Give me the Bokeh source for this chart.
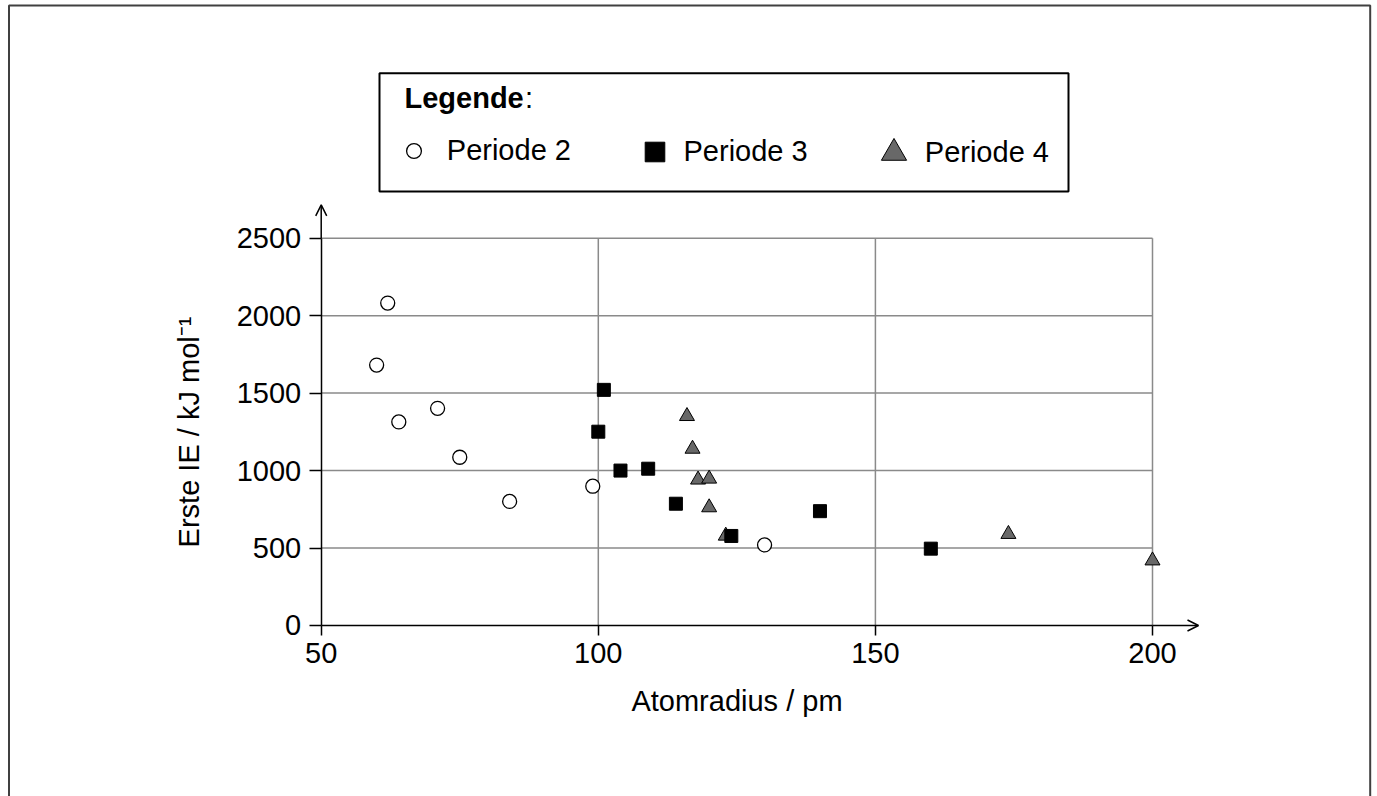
from bokeh.plotting import figure
from bokeh.models import (LinearAxis, FixedTicker, Range1d, Arrow, OpenHead, Legend,
                          LegendItem, Label, BoxAnnotation)
from bokeh.embed import file_html
from bokeh.resources import INLINE

# ---- data ----
p2_radius = [60, 62, 64, 71, 75, 84, 99, 130]
p2_ie = [1681, 2081, 1314, 1402, 1086, 801, 899, 520]
p3_radius = [100, 101, 104, 109, 114, 124, 140, 160]
p3_ie = [1251, 1521, 1000, 1012, 786, 578, 738, 496]
p4_radius = [116, 117, 118, 120, 120, 123, 174, 200]
p4_ie = [1351, 1140, 941, 947, 762, 579, 590, 419]
x_ticks = [50, 100, 150, 200]
y_ticks = [0, 500, 1000, 1500, 2000, 2500]
series_labels = ["Periode 2", "Periode 3", "Periode 4"]
x_title = "Atomradius / pm"
y_title = "Erste IE / kJ mol\u207b\u00b9"
legend_title = "Legende"

FONT = "Liberation Sans"
FS = "29px"
W, H = 1377, 796

p = figure(width=W, height=H, output_backend="svg", toolbar_location=None,
           x_range=Range1d(-7.87, 240.6), y_range=Range1d(-1103.8, 4034.3),
           x_axis_type=None, y_axis_type=None, min_border=0, title=None)
p.outline_line_color = None
p.background_fill_color = "white"
p.border_fill_color = "white"

# ---- grid lines (bounded to the tick span) ----
hy = y_ticks[1:]
p.segment(x0=[x_ticks[0]] * len(hy), x1=[x_ticks[-1]] * len(hy), y0=hy, y1=hy,
          line_color="#8a8a8a", line_width=1.5)
vx = x_ticks[1:]
p.segment(x0=vx, x1=vx, y0=[y_ticks[0]] * len(vx), y1=[y_ticks[-1]] * len(vx),
          line_color="#8a8a8a", line_width=1.5)

# ---- axes ----
def style_axis(ax, tick_out, standoff, label_standoff):
    ax.axis_line_color = "black"
    ax.axis_line_width = 1.5
    ax.major_tick_line_color = "black"
    ax.major_tick_line_width = 1.5
    ax.major_tick_out = tick_out
    ax.major_tick_in = 0
    ax.minor_tick_line_color = None
    ax.major_label_text_font = FONT
    ax.major_label_text_font_size = FS
    ax.major_label_text_color = "black"
    ax.major_label_standoff = standoff
    ax.axis_label_text_font = FONT
    ax.axis_label_text_font_size = FS
    ax.axis_label_text_font_style = "normal"
    ax.axis_label_text_color = "black"
    ax.axis_label_standoff = label_standoff

xaxis = LinearAxis(fixed_location=y_ticks[0], bounds=(x_ticks[0], x_ticks[-1]),
                   ticker=FixedTicker(ticks=x_ticks), axis_label=x_title)
style_axis(xaxis, 10, 8, 18)
p.add_layout(xaxis, "below")

yaxis = LinearAxis(fixed_location=x_ticks[0], bounds=(y_ticks[0], y_ticks[-1]),
                   ticker=FixedTicker(ticks=y_ticks), axis_label=y_title)
style_axis(yaxis, 12, 8, 29)
p.add_layout(yaxis, "left")

# axis arrows
p.add_layout(Arrow(end=OpenHead(size=11, line_width=1.5, line_color="black"),
                   x_start=x_ticks[-1], y_start=y_ticks[0], x_end=208.3, y_end=y_ticks[0],
                   line_width=1.5, line_color="black"))
p.add_layout(Arrow(end=OpenHead(size=11, line_width=1.5, line_color="black"),
                   x_start=x_ticks[0], y_start=y_ticks[-1], x_end=x_ticks[0], y_end=2715,
                   line_width=1.5, line_color="black"))

# ---- data markers ----
r4 = p.scatter(p4_radius, p4_ie, marker="triangle", size=15, fill_color="#686868",
               line_color="black", line_width=1)
r3 = p.scatter(p3_radius, p3_ie, marker="square", size=13, fill_color="black",
               line_color="black", line_width=1)
r2 = p.scatter(p2_radius, p2_ie, marker="circle", size=14, fill_color="white",
               line_color="black", line_width=1.3)

# ---- legend ----
def mk_legend(label, r, g, loc, standoff):
    lg = Legend(items=[LegendItem(label=label, renderers=[r])], location=loc,
                orientation="horizontal", glyph_width=g, glyph_height=g,
                label_standoff=standoff, padding=0, margin=0, spacing=0,
                border_line_color=None, background_fill_alpha=0,
                label_text_font=FONT, label_text_font_size=FS, label_text_color="black")
    p.add_layout(lg)

mk_legend(series_labels[0], r2, 37, (394.8, 627.5), 15)
mk_legend(series_labels[1], r3, 49, (629.5, 620.5), 5)
mk_legend(series_labels[2], r4, 63, (861.8, 612.0), 0)

p.add_layout(Label(x=404, y=699, x_units="screen", y_units="screen", text=legend_title,
                   text_font=FONT, text_font_style="bold", text_font_size=FS,
                   text_baseline="alphabetic", text_color="black"))
p.add_layout(Label(x=524.5, y=699, x_units="screen", y_units="screen", text=":",
                   text_font=FONT, text_font_size=FS,
                   text_baseline="alphabetic", text_color="black"))

p.add_layout(BoxAnnotation(left=379, right=1068, top=723.3, bottom=605,
                           left_units="screen", right_units="screen",
                           top_units="screen", bottom_units="screen",
                           fill_color=None, line_color="black", line_alpha=1.0,
                           line_width=2))

# ---- outer page border (bottom edge lies below the page) ----
p.add_layout(BoxAnnotation(left=8.5, right=1369.7, top=791, bottom=-30,
                           left_units="screen", right_units="screen",
                           top_units="screen", bottom_units="screen",
                           fill_color=None, line_color="#404040", line_alpha=1.0,
                           line_width=2, level="underlay"))

open("out.html", "w").write(file_html(p, INLINE))
